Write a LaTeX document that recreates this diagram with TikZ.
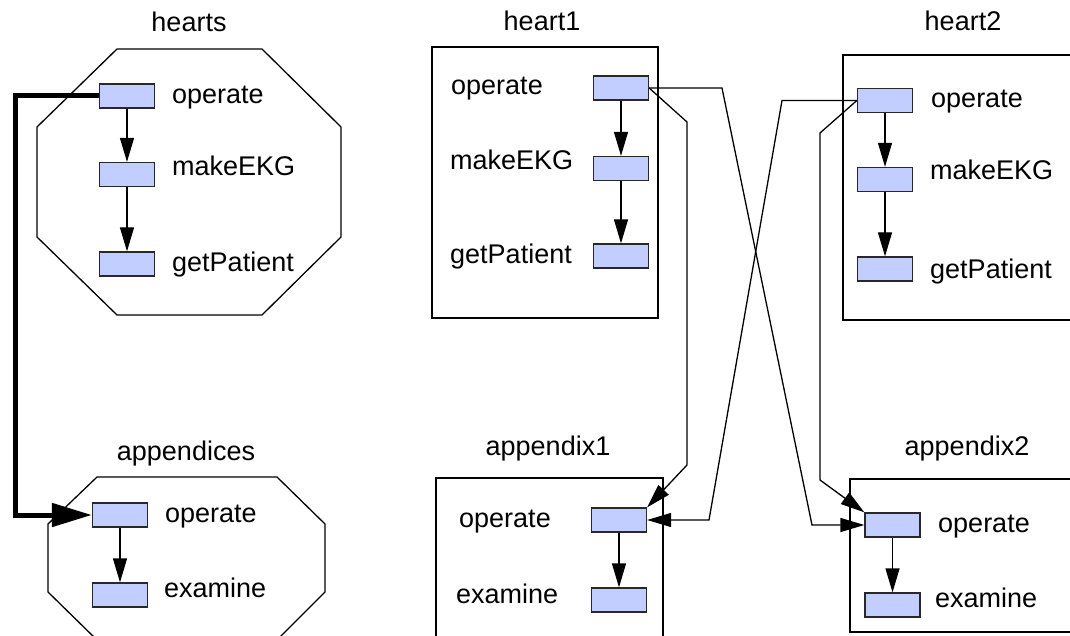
\documentclass[tikz,border=0pt]{standalone}
\usepackage{fontspec}
\setmainfont{Liberation Sans}
\usetikzlibrary{arrows.meta}
\definecolor{boxfill}{RGB}{194,206,255}
\definecolor{boxline}{RGB}{40,40,40}
\begin{document}
\begin{tikzpicture}[x=1pt,y=-1pt,
  font=\fontsize{27}{32}\selectfont,
  opbox/.style={draw=boxline,line width=1.3pt,fill=boxfill,minimum width=55pt,minimum height=24pt,inner sep=0pt},
  lbl/.style={anchor=base west,inner sep=0pt},
  ttl/.style={anchor=base,inner sep=0pt},
  frame/.style={draw,line width=1.3pt},
  flow/.style={draw,line width=1.3pt,-{Triangle[length=24pt,width=14pt]}},
  link/.style={draw,line width=1.3pt,line join=miter,-{Triangle[length=24pt,width=14pt]}},
  bus/.style={draw,line width=5pt,-{Triangle[length=40pt,width=23pt]}}]
\useasboundingbox (0,0) rectangle (1070,636);
\clip (0,0) rectangle (1070,636);

% ---- group containers ----
\draw[frame] (117,49) -- (262,49) -- (341,127) -- (341,237) -- (262,315)
  -- (117,315) -- (37,237) -- (37,127) -- cycle;
\draw[frame] (97,477) -- (277,477) -- (325,524) -- (325,592) -- (277,640)
  -- (97,640) -- (48,592) -- (48,524) -- cycle;
\draw[frame] (432,47) rectangle (658,318);
\draw[frame] (436,478) rectangle (663,650);
\draw[frame] (843,55) rectangle (1080,320);
\draw[frame] (850,479) rectangle (1080,632);

% ---- titles ----
\node[ttl] (t-hearts) at (189,32) {hearts};
\node[ttl] (t-app) at (186,460) {appendices};
\node[ttl] (t-h1) at (542,31) {heart1};
\node[ttl] (t-a1) at (548,455) {appendix1};
\node[ttl] (t-h2) at (963,31) {heart2};
\node[ttl] (t-a2) at (967,455) {appendix2};

% ---- hearts ----
\node[opbox] (hop) at (127,96) {};
\node[opbox] (hekg) at (127,174.5) {};
\node[opbox] (hget) at (127,264) {};
\node[lbl] at (172,104) {operate};
\node[lbl] at (172,176) {makeEKG};
\node[lbl] at (172,272) {getPatient};

% ---- appendices ----
\node[opbox] (aop) at (120,515) {};
\node[opbox] (aex) at (120,595) {};
\node[lbl] at (165,522) {operate};
\node[lbl] at (164,597) {examine};

% ---- heart1 ----
\node[opbox] (h1op) at (621,88) {};
\node[opbox] (h1ekg) at (621,168.5) {};
\node[opbox] (h1get) at (621,256) {};
\node[lbl] at (451,95) {operate};
\node[lbl] at (450,170) {makeEKG};
\node[lbl] at (450,264) {getPatient};

% ---- appendix1 ----
\node[opbox] (a1op) at (619,520) {};
\node[opbox] (a1ex) at (619,600) {};
\node[lbl] at (459,527) {operate};
\node[lbl] at (456,603) {examine};

% ---- heart2 ----
\node[opbox] (h2op) at (885,100.5) {};
\node[opbox] (h2ekg) at (885,179.5) {};
\node[opbox] (h2get) at (885,269) {};
\node[lbl] at (931,108) {operate};
\node[lbl] at (930,180) {makeEKG};
\node[lbl] at (930,278) {getPatient};

% ---- appendix2 ----
\node[opbox] (a2op) at (892.5,525) {};
\node[opbox] (a2ex) at (892.5,605) {};
\node[lbl] at (938,532) {operate};
\node[lbl] at (935,607) {examine};

% ---- call chains inside each group ----
\draw[flow] (hop) -- (hekg);
\draw[flow] (hekg) -- (hget);
\draw[flow] (aop) -- (aex);
\draw[flow] (h1op) -- (h1ekg);
\draw[flow] (h1ekg) -- (h1get);
\draw[flow] (a1op) -- (a1ex);
\draw[flow] (h2op) -- (h2ekg);
\draw[flow] (h2ekg) -- (h2get);
\draw[flow] (a2op) -- (a2ex);

% ---- group-level link ----
\draw[bus] (hop.west) -- (15,96) |- (aop.west);

% ---- instance-level links ----
\draw[link] (h1op.east) -- (722,88) -- (812,525) -- (a2op.west);
\draw[link] (h1op.east) -- (687,122) -- (687,465) -- (a1op.north east);
\draw[link] (h2op.west) -- (782,100.5) -- (709,520) -- (a1op.east);
\draw[link] (h2op.west) -- (820,133) -- (820,480) -- (a2op.north west);
\end{tikzpicture}
\end{document}
